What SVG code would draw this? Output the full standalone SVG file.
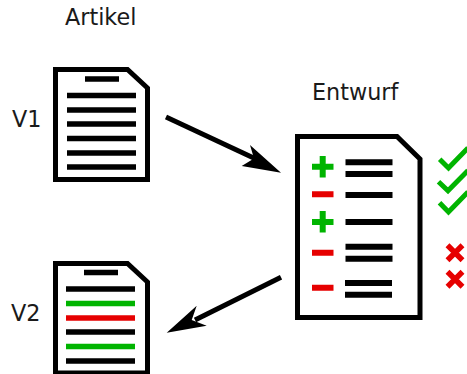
<svg xmlns="http://www.w3.org/2000/svg" width="467" height="374" viewBox="0 0 467 374">
<style>
text{font-family:"DejaVu Sans",sans-serif;font-size:22.300px;fill:#1a1a1a}
.doc{fill:#fff;stroke:#000;stroke-width:5;stroke-linejoin:miter}
.k{stroke:#000;stroke-width:5.5;fill:none}
.k6{stroke:#000;stroke-width:6;fill:none}
.g{stroke:#00b400;stroke-width:5.5;fill:none}
.r{stroke:#e60000;stroke-width:5.5;fill:none}
.line{stroke:#000;stroke-width:5;fill:none}
.head{fill:#000}
</style>
<rect width="467" height="374" fill="#fff"/>
<g id="artikel-label"><text x="65" y="25">Artikel</text></g>
<g id="v1">
<text x="12" y="127">V1</text>
<path class="doc" d="M55.5 69.5H127.500L147.500 88V179.500H55.500Z"/>
<path class="k" d="M85 79H119M67 95.500H136M67 110H136M67 124H136M67 138.500H136M67 153H136M67 167H136"/>
</g>
<g id="v2">
<text x="11" y="321">V2</text>
<path class="doc" d="M55.5 263.500H127.500L147.500 282V373H55.500Z"/>
<path class="k" d="M84 272.500H118M66 289H135M66 332H135M66 361H135"/>
<path class="g" d="M66 303.500H135M66 346.500H135"/>
<path class="r" d="M66 318H135"/>
</g>
<g id="entwurf">
<text x="312" y="100">Entwurf</text>
<path class="doc" d="M297.500 136.500H397L420 159V317.500H297.500Z"/>
<path class="g" d="M322.700 156V177.500M312 166.700H333.500M322.700 211V232.500M312 222H333.500" style="stroke-width:6"/>
<path class="r" d="M312 194.300H333.500M312 252.700H333.500M312 287.700H333.500" style="stroke-width:6"/>
<path class="k6" d="M345.500 162.300H392.500M345.500 174H392.500M345.500 195H392.500M345.500 222H392.500M345.500 246.700H392.500M345.500 258.700H392.500M345 283H392M345 294.700H392"/>
</g>
<g id="checks">
<path class="g" d="M439.700 159.300L448.500 168L468 148M438.500 181.700L448 190.700L468 170.500M439.500 202.700L448.500 212L468 192" style="stroke-width:5"/>
</g>
<g id="crosses">
<path class="r" d="M447.500 245.200L462.500 260.200M462.500 245.200L447.500 260.200M447.500 271.800L462.500 286.800M462.500 271.800L447.500 286.800" style="stroke-width:5.500"/>
</g>
<g id="connectors">
<path class="line" d="M166 117L258 160"/>
<path class="head" d="M281 172.700L241.700 166L254 158.500L250 145Z"/>
<path class="line" d="M281 277.300L195 320"/>
<path class="head" d="M166.700 332.700L196.700 305.700L191.700 320L206.700 325.700Z"/>
</g>
</svg>
